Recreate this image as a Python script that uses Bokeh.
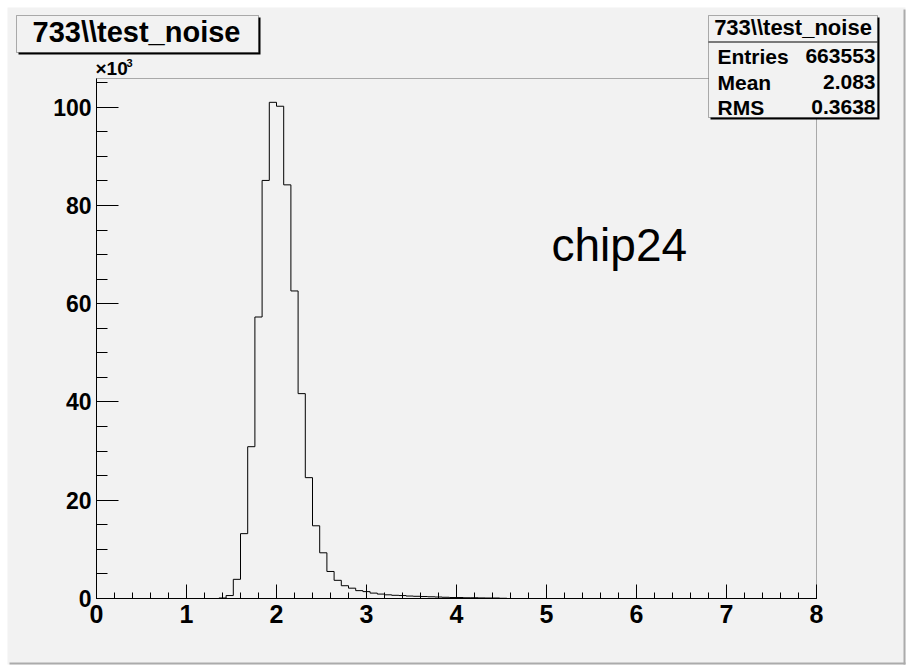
from bokeh.plotting import figure
from bokeh.models import Range1d, FixedTicker, BoxAnnotation, Label
from bokeh.embed import file_html
from bokeh.resources import INLINE
import numpy as np

# ---------------- data ----------------
hist_name = r"733\\test_noise"
x_min, x_max, n_bins = 0.0, 8.0, 100
first_bin = 17
# bin contents (x10^3), starting at bin index 17 ([1.36, 1.44])
nonzero_counts_k = [0.1, 0.6, 3.9, 13.2, 30.9, 57.3, 85.1, 101.0, 100.2, 84.2,
                    62.6, 41.7, 24.6, 14.8, 9.3, 5.5, 3.7, 2.6, 2.1, 1.6,
                    1.4, 1.1, 0.9, 0.75, 0.65, 0.6, 0.5, 0.45, 0.4, 0.35,
                    0.3, 0.25, 0.2, 0.2, 0.15, 0.15, 0.12, 0.1, 0.1, 0.05]
x_ticks = [0, 1, 2, 3, 4, 5, 6, 7, 8]
y_ticks = [0, 20, 40, 60, 80, 100]
stat_labels = ["Entries", "Mean", "RMS"]
stat_values = ["663553", "2.083", "0.3638"]
annotation_text = "chip24"
y_mult_text = "\u00d710"
y_mult_exp = "3"

counts_k = np.zeros(n_bins)
counts_k[first_bin:first_bin + len(nonzero_counts_k)] = nonzero_counts_k
edges = np.linspace(x_min, x_max, n_bins + 1)
y_max = 1.048 * max(nonzero_counts_k)

# ---------------- layout ----------------
W, H = 910, 667
FL, FR, FT, FB = 96, 816, 78, 598      # histogram frame in pixels
BG = "#f2f2f2"
FONT = "Liberation Sans"

sx = (FR - FL) / (x_max - x_min)       # px per x unit
sy = (FB - FT) / y_max                 # px per y unit
xr = Range1d(x_min - FL / sx, x_max + (W - FR) / sx)
yr = Range1d(-(H - FB) / sy, y_max + FT / sy)

p = figure(width=W, height=H, output_backend="svg", toolbar_location=None,
           x_range=xr, y_range=yr, min_border=0,
           min_border_left=0, min_border_right=0,
           min_border_top=0, min_border_bottom=0)
p.background_fill_color = "white"
p.border_fill_color = "white"
p.outline_line_color = None
p.grid.visible = False


def X(px):
    return x_min + (px - FL) / sx


def Y(py):
    return (FB - py) / sy


def box(l, t, r, b, color, level="annotation", line_color=None, alpha=1.0):
    p.add_layout(BoxAnnotation(left=X(l), right=X(r), top=Y(t), bottom=Y(b),
                               fill_color=color, fill_alpha=alpha,
                               line_color=line_color, line_width=1,
                               level=level))


def text(px, base_py, s, size, align="left", bold=True):
    # place text so that its alphabetic baseline lands at base_py
    p.add_layout(Label(x=X(px), y=Y(base_py - 0.35 * size), text=s,
                       text_align=align, text_baseline="alphabetic",
                       text_font=FONT,
                       text_font_style="bold" if bold else "normal",
                       text_font_size=f"{size}px", text_color="black"))


# canvas
box(7, 7, 905, 664, BG, level="image")
box(903, 9, 905, 664, "#ababab", level="image")
box(9, 662, 905, 664, "#ababab", level="image")
# histogram frame outline
p.add_layout(BoxAnnotation(left=x_min, right=x_max, bottom=0, top=y_max,
                           fill_alpha=0, line_color="black", line_width=1,
                           level="underlay"))

# axes, drawn at the frame edges
p.xaxis.fixed_location = 0
p.yaxis.fixed_location = x_min
p.xaxis.bounds = (x_min, x_max)
p.yaxis.bounds = (0, y_max)
p.xaxis.ticker = FixedTicker(ticks=x_ticks,
                             minor_ticks=[round(0.2 * i, 2) for i in range(41)])
p.yaxis.ticker = FixedTicker(ticks=y_ticks, minor_ticks=list(range(0, 106, 5)))
for ax in (p.xaxis, p.yaxis):
    ax.axis_line_color = "black"
    ax.major_tick_line_color = "black"
    ax.minor_tick_line_color = "black"
    ax.major_tick_out = 0
    ax.minor_tick_out = 0
    ax.major_label_text_font = FONT
    ax.major_label_text_font_style = "bold"
    ax.major_label_text_color = "black"
p.xaxis.major_label_text_font_size = "25px"
p.yaxis.major_label_text_font_size = "23px"
p.xaxis.major_tick_in = 14
p.xaxis.minor_tick_in = 6
p.xaxis.major_label_standoff = 6
p.yaxis.major_tick_in = 22
p.yaxis.minor_tick_in = 11
p.yaxis.major_label_standoff = 5

# histogram
p.step(x=edges, y=np.append(counts_k, counts_k[-1]), mode="after",
       line_color="black", line_width=1)

# title box
box(18, 17, 260, 54, "black")
box(16, 15, 258, 52, BG, line_color="black")
text(136, 42, hist_name, 29, align="center")

# stats box
box(710, 17, 879, 119, "black")
box(708, 15, 877, 117, BG, line_color="black")
box(708, 41, 877, 42, "black")
text(792.5, 35, hist_name, 22, align="center")
for name, val, base in zip(stat_labels, stat_values, [63, 89, 114]):
    text(717, base, name, 21, align="left")
    text(875, base, val, 21, align="right")

# x10^3 multiplier
text(95, 75, y_mult_text, 19)
text(126, 66, y_mult_exp, 11)

# chip label
text(551, 261, annotation_text, 46, bold=False)

open("out.html", "w").write(file_html(p, INLINE))
